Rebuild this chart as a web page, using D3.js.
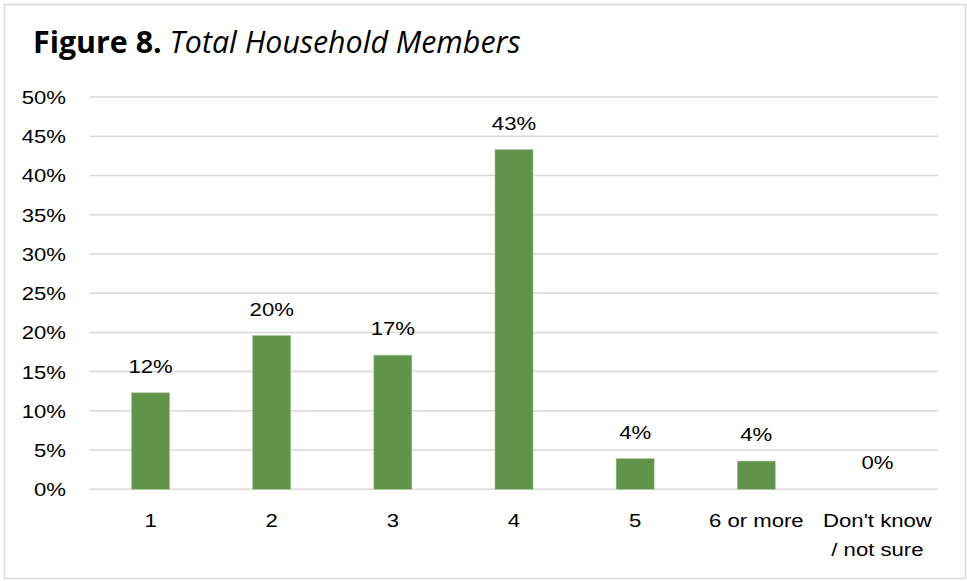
<!DOCTYPE html>
<html>
<head>
<meta charset="utf-8">
<script src="https://cdn.jsdelivr.net/npm/d3@7"></script>
<style>
  html, body { margin: 0; padding: 0; background: #ffffff; }
  svg { display: block; }
</style>
</head>
<body>
<svg id="chart" width="967" height="581"></svg>
<script>
// Household size survey results
const categories = ["1", "2", "3", "4", "5", "6 or more", "Don't know / not sure"];
const shares = [0.123, 0.196, 0.171, 0.433, 0.039, 0.036, 0];
const yTicks = [0, 0.05, 0.10, 0.15, 0.20, 0.25, 0.30, 0.35, 0.40, 0.45, 0.50];

const W = 967, H = 581;
const plot = { left: 90, right: 938, top: 97, bottom: 489.3 };
const textFont = "'Liberation Sans', Arial, sans-serif";
const stretch = 1.23; // wide label lettering
const barColor = "#62934a";
const gridColor = "#d9d9d9";

const svg = d3.select("#chart");

// outer frame
svg.append("rect")
  .attr("x", 4.5).attr("y", 4.5)
  .attr("width", W - 6).attr("height", H - 7)
  .attr("fill", "#fff")
  .attr("stroke", "#d9d9d9").attr("stroke-width", 1.5);

// title
const title = svg.append("text")
  .attr("x", 33).attr("y", 53)
  .attr("font-family", "'Open Sans', 'Noto Sans', sans-serif")
  .attr("font-size", 29)
  .attr("fill", "#000");
title.append("tspan").attr("font-weight", "bold").text("Figure 8.");
title.append("tspan").attr("font-style", "italic").text(" Total Household Members");
// fit title to its measured span
const tw = title.node().getComputedTextLength();
title.attr("font-size", 29 * 488 / tw);

const x = d3.scaleBand()
  .domain(categories)
  .range([plot.left, plot.right])
  .paddingInner(0.686)
  .paddingOuter(0.343);

const y = d3.scaleLinear()
  .domain([0, 0.5])
  .range([plot.bottom, plot.top]);

// horizontal gridlines
svg.append("g")
  .selectAll("line")
  .data(yTicks)
  .join("line")
  .attr("x1", plot.left).attr("x2", plot.right)
  .attr("y1", d => y(d)).attr("y2", d => y(d))
  .attr("stroke", gridColor).attr("stroke-width", 1.5);

// y axis labels
const yAxis = svg.append("g")
  .attr("transform", `translate(${plot.left},0)`)
  .call(d3.axisLeft(y).tickValues(yTicks).tickFormat(d3.format(".0%")).tickSize(0).tickPadding(0));
yAxis.select(".domain").remove();
yAxis.selectAll(".tick text")
  .attr("font-family", textFont)
  .attr("font-size", 18)
  .attr("fill", "#000")
  .attr("text-anchor", "end")
  .attr("dy", "0.36em")
  .attr("x", 0)
  .attr("transform", `translate(-24,0) scale(${stretch},1)`);

// bars
svg.append("g")
  .selectAll("rect")
  .data(shares)
  .join("rect")
  .attr("x", (d, i) => x(categories[i]))
  .attr("width", x.bandwidth())
  .attr("y", d => y(d))
  .attr("height", d => y(0) - y(d))
  .attr("fill", barColor)
  .attr("stroke", "#a9c79a")
  .attr("stroke-width", 0.6);

// value labels
svg.append("g")
  .selectAll("text")
  .data(shares)
  .join("text")
  .attr("transform", (d, i) => `translate(${x(categories[i]) + x.bandwidth() / 2},${y(d) - 20}) scale(${stretch},1)`)
  .attr("text-anchor", "middle")
  .attr("font-family", textFont)
  .attr("font-size", 18)
  .attr("fill", "#000")
  .text(d => d3.format(".0%")(d));

// category labels, wrapped at the slash
const catLines = c => c.includes(" / ") ? [c.split(" / ")[0], "/ " + c.split(" / ")[1]] : [c];
svg.append("g")
  .selectAll("text")
  .data(categories)
  .join("text")
  .attr("transform", c => `translate(${x(c) + x.bandwidth() / 2},527) scale(${stretch},1)`)
  .attr("text-anchor", "middle")
  .attr("font-family", textFont)
  .attr("font-size", 18)
  .attr("fill", "#000")
  .selectAll("tspan")
  .data(c => catLines(c))
  .join("tspan")
  .attr("x", 0)
  .attr("y", (l, i) => i * 29)
  .text(l => l);
</script>
</body>
</html>
